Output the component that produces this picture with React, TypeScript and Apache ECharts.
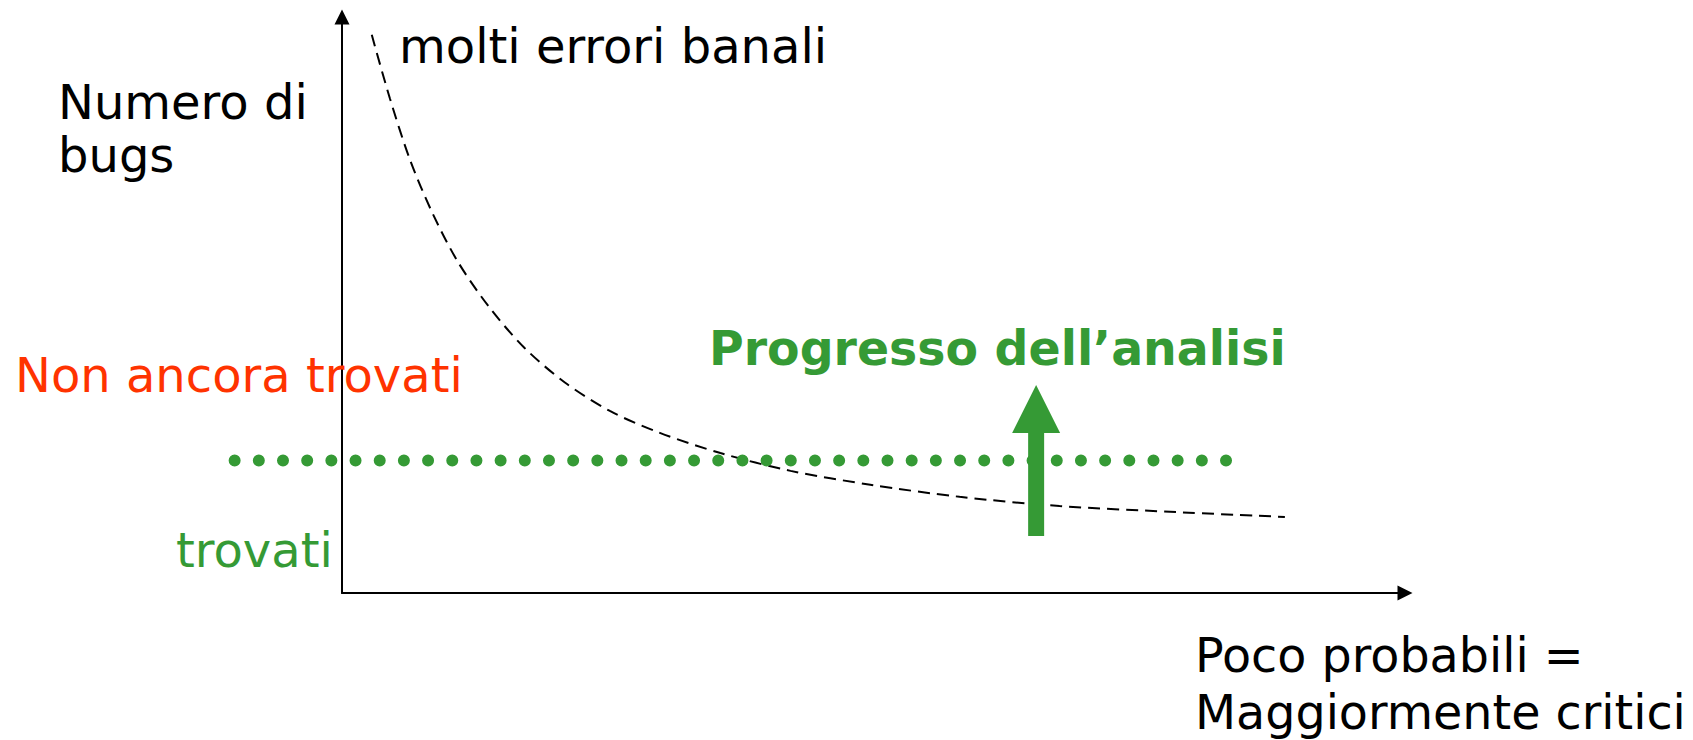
import React, { useEffect, useRef } from "react";
import * as echarts from "echarts";

// Dashed curve: number of bugs vs. criticality
const curveX = [2.8, 4.5, 6.4, 8.5, 10.9, 13.9, 17.2, 21.0, 25.2, 29.9, 35.6, 42.2, 49.7, 58.1, 67.5, 77.9, 88.7];
const curveY = [96.9, 85.9, 75.2, 66.0, 57.5, 49.5, 42.5, 36.5, 31.6, 27.8, 24.3, 21.2, 18.8, 16.7, 15.1, 14.1, 13.2];

// Dotted threshold line between "found" and "not yet found"
const foundLineX = [-10.1, 83.3];
const foundLevel = 23.0;

// Green progress arrow
const progressX = 65.3;
const progressFrom = 9.9;
const progressTo = 36.1;

const FONT = "'DejaVu Sans', Verdana, sans-serif";
const GREEN = "#359a35";
const RED = "#ff3300";

export default function App() {
  const ref = useRef<HTMLDivElement>(null);

  useEffect(() => {
    if (!ref.current) return;
    const chart = echarts.init(ref.current, undefined, { renderer: "svg" });

    const curveData = curveX.map((x, i) => [x, curveY[i]]);

    const axisCommon = {
      type: "value" as const,
      min: 0,
      max: 100,
      axisTick: { show: false },
      axisLabel: { show: false },
      splitLine: { show: false },
      axisLine: {
        show: true,
        symbol: ["none", "triangle"],
        symbolSize: [15, 15],
        lineStyle: { color: "#000", width: 2 },
      },
    };

    const text = (t: string, x: number, y: number, color: string, size: number, weight = "normal") => ({
      type: "text",
      x,
      y,
      z: 1,
      style: {
        text: t,
        fill: color,
        font: `${weight} ${size}px ${FONT}`,
        textAlign: "left",
        textVerticalAlign: "middle",
      },
    });

    chart.setOption({
      animation: false,
      backgroundColor: "#fff",
      grid: { left: 342, right: 288, top: 17, bottom: 147, containLabel: false },
      xAxis: axisCommon,
      yAxis: axisCommon,
      series: [
        {
          type: "line",
          data: curveData,
          smooth: 0.3,
          showSymbol: false,
          z: 2,
          lineStyle: { color: "#000", width: 2, type: [12, 7] },
        },
        {
          type: "custom",
          z: 3,
          clip: false,
          data: [[foundLineX[0], foundLineX[1], foundLevel]],
          renderItem: (params: any, api: any) => {
            const a = api.coord([api.value(0), api.value(2)]);
            const b = api.coord([api.value(1), api.value(2)]);
            return {
              type: "line",
              shape: { x1: a[0], y1: a[1], x2: b[0], y2: b[1] },
              style: {
                stroke: GREEN,
                lineWidth: 12,
                lineDash: [0.01, 24.17],
                lineCap: "round",
                fill: null,
              },
            };
          },
        },
        {
          type: "custom",
          z: 4,
          data: [[progressX, progressFrom, progressTo]],
          renderItem: (params: any, api: any) => {
            const base = api.coord([api.value(0), api.value(1)]);
            const tip = api.coord([api.value(0), api.value(2)]);
            const headLen = 48;
            const headW = 48;
            const shaftW = 16;
            return {
              type: "group",
              children: [
                {
                  type: "rect",
                  shape: {
                    x: base[0] - shaftW / 2,
                    y: tip[1] + headLen - 1,
                    width: shaftW,
                    height: base[1] - tip[1] - headLen + 1,
                  },
                  style: { fill: GREEN },
                },
                {
                  type: "polygon",
                  shape: {
                    points: [
                      [tip[0], tip[1]],
                      [tip[0] + headW / 2, tip[1] + headLen],
                      [tip[0] - headW / 2, tip[1] + headLen],
                    ],
                  },
                  style: { fill: GREEN },
                },
              ],
            };
          },
        },
      ],
      graphic: [
        text("molti errori banali", 399, 46, "#000", 48),
        text("Numero di", 58, 102, "#000", 48),
        text("bugs", 58, 155, "#000", 48),
        text("Non ancora trovati", 15, 375, RED, 48),
        text("trovati", 176, 550, GREEN, 48),
        text("Progresso dell\u2019analisi", 709, 348, GREEN, 47.4, "bold"),
        text("Poco probabili =", 1195, 655, "#000", 47.6),
        text("Maggiormente critici", 1195, 712, "#000", 47.6),
      ],
    });

    return () => chart.dispose();
  }, []);

  return (
    <div
      ref={ref}
      style={{ position: "fixed", left: 0, top: 0, width: 1693, height: 740 }}
    />
  );
}
